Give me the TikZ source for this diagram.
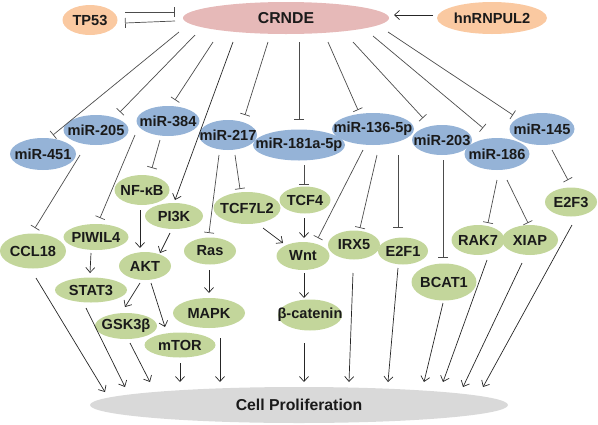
\documentclass[tikz,border=0pt]{standalone}
\usepackage{fontspec}
\setmainfont{Liberation Sans}
\usetikzlibrary{shapes.geometric,arrows.meta,calc}
\definecolor{peach}{HTML}{FAC9A1}
\definecolor{pinkc}{HTML}{E6B9B8}
\definecolor{bluec}{HTML}{95B3D7}
\definecolor{greenc}{HTML}{C3D69B}
\definecolor{grayc}{HTML}{D9D9D9}
\definecolor{txt}{HTML}{1A1A1A}
\begin{document}
\begin{tikzpicture}[x=1pt,y=-1pt,
  el/.style={ellipse, draw=none, inner sep=0pt, text=txt,
    font=\bfseries\fontsize{14.6}{16}\selectfont},
  pe/.style={el, fill=peach},
  pk/.style={el, fill=pinkc},
  bl/.style={el, fill=bluec},
  gr/.style={el, fill=greenc},
  gy/.style={el, fill=grayc},
  inh/.style={draw=black!70, line width=0.7pt, -{Bar[width=10pt,line width=0.7pt]}},
  act/.style={draw=black!85, line width=0.7pt, -{Straight Barb[length=5pt,width=9pt,line width=0.7pt]}},
  dim/.style 2 args={minimum width=#1pt, minimum height=#2pt}
]
\useasboundingbox (0,0) rectangle (598,424);

% top row
\node[pe, dim={55}{30}] (tp53) at (90,20) {\makebox[0pt]{TP53}};
\node[pk, dim={206}{32}, font=\bfseries\fontsize{15.8}{17}\selectfont] (crnde) at (286,18) {\makebox[0pt]{CRNDE}};
\node[pe, dim={110}{32}] (hn) at (492,18) {\makebox[0pt]{hnRNPUL2}};

% miRNAs
\node[bl, dim={66}{32}] (m451) at (43,154) {\makebox[0pt]{miR-451}};
\node[bl, dim={65}{30}] (m205) at (96,130) {\makebox[0pt]{miR-205}};
\node[bl, dim={63}{30}] (m384) at (168,121) {\makebox[0pt]{miR-384}};
\node[bl, dim={58}{30}] (m217) at (228,135) {\makebox[0pt]{miR-217}};
\node[bl, dim={92}{31}] (m181) at (299,145) {\makebox[0pt]{miR-181a-5p}};
\node[bl, dim={82}{32}] (m136) at (373,129) {\makebox[0pt]{miR-136-5p}};
\node[bl, dim={60}{30}] (m203) at (442,140) {\makebox[0pt]{miR-203}};
\node[bl, dim={65}{32}] (m186) at (497,154) {\makebox[0pt]{miR-186}};
\node[bl, dim={65}{32}] (m145) at (542,129) {\makebox[0pt]{miR-145}};

% targets
\node[gr, dim={55}{30}] (nfkb) at (142,190) {\makebox[0pt]{NF-κB}};
\node[gr, dim={58}{26}] (pi3k) at (174,216) {\makebox[0pt]{PI3K}};
\node[gr, dim={67}{32}] (tcf7l2) at (247,208) {\makebox[0pt]{TCF7L2}};
\node[gr, dim={51}{27}] (tcf4) at (305,200) {\makebox[0pt]{TCF4}};
\node[gr, dim={66}{35}] (ccl18) at (33,251) {\makebox[0pt]{CCL18}};
\node[gr, dim={65}{26}] (piwil4) at (96,237) {\makebox[0pt]{PIWIL4}};
\node[gr, dim={52}{28}] (akt) at (145,266) {\makebox[0pt]{AKT}};
\node[gr, dim={52}{27}] (ras) at (210,251) {\makebox[0pt]{Ras}};
\node[gr, dim={53}{28}] (wnt) at (303,256) {\makebox[0pt]{Wnt}};
\node[gr, dim={52}{29}] (irx5) at (354,245) {\makebox[0pt]{IRX5}};
\node[gr, dim={50}{27}] (e2f1) at (403,251) {\makebox[0pt]{E2F1}};
\node[gr, dim={53}{30}] (rak7) at (478,240) {\makebox[0pt]{RAK7}};
\node[gr, dim={56}{30}] (xiap) at (530,240) {\makebox[0pt]{XIAP}};
\node[gr, dim={52}{29}] (e2f3) at (571,202) {\makebox[0pt]{E2F3}};
\node[gr, dim={65}{37}] (bcat1) at (444,282) {\makebox[0pt]{BCAT1}};
\node[gr, dim={72}{25}] (stat3) at (91,290) {\makebox[0pt]{STAT3}};
\node[gr, dim={62}{26}] (gsk) at (126,326) {\makebox[0pt]{GSK3β}};
\node[gr, dim={71}{25}] (mtor) at (180,345) {\makebox[0pt]{mTOR}};
\node[gr, dim={72}{30}] (mapk) at (209,313) {\makebox[0pt]{MAPK}};
\node[gr, dim={64}{31}] (bcat) at (310,315) {\makebox[0pt]{β-catenin}};

\node[gy, dim={418}{36}, font=\bfseries\fontsize{15.8}{17}\selectfont] (cp) at (299,405) {\makebox[0pt]{Cell Proliferation}};

% TP53 / CRNDE / hnRNPUL2
\draw[inh] ($(tp53)+(35,-8)$) -- ($(crnde)+(-111,-6)$);
\draw[inh] ($(crnde)+(-111,3)$) -- ($(tp53)+(35,3)$);
\draw[act] ($(hn)+(-59,-3)$) -- ($(crnde)+(108,-3)$);

% CRNDE to miRNAs
\draw[inh] ($(crnde)+(-107,14)$) -- ($(m451)+(10,-19)$);
\draw[inh] ($(crnde)+(-91,17)$) -- ($(m205)+(24,-18)$);
\draw[inh] ($(crnde)+(-73,24)$) -- ($(m384)+(7,-21)$);
\draw[act] ($(crnde)+(-53,24)$) -- ($(pi3k)+(1,-16)$);
\draw[inh] ($(crnde)+(-18,24)$) -- ($(m217)+(17,-20)$);
\draw[inh] ($(crnde)+(13,24)$) -- ($(m181)+(0,-25)$);
\draw[inh] ($(crnde)+(42,24)$) -- ($(m136)+(-15,-19)$);
\draw[inh] ($(crnde)+(67,24)$) -- ($(m203)+(-19,-22)$);
\draw[inh] ($(crnde)+(87,18)$) -- ($(m186)+(-14,-26)$);
\draw[inh] ($(crnde)+(102,14)$) -- ($(m145)+(-29,-14)$);

% miRNAs to targets
\draw[inh] ($(m451)+(37,1)$) -- ($(ccl18)+(2,-23)$);
\draw[inh] ($(m205)+(39,5)$) -- ($(piwil4)+(4,-19)$);
\draw[inh] ($(m384)+(-8,19)$) -- ($(nfkb)+(10,-22)$);
\draw[inh] ($(m217)+(-9,20)$) -- ($(ras)+(-1,-18)$);
\draw[inh] ($(m217)+(7,20)$) -- ($(tcf7l2)+(-7,-19)$);
\draw[inh] ($(m181)+(5,20)$) -- ($(tcf4)+(-1,-15)$);
\draw[inh] ($(m136)+(-10,21)$) -- ($(wnt)+(15,-18)$);
\draw[inh] ($(m136)+(4,26)$) -- ($(irx5)+(6,-17)$);
\draw[inh] ($(m136)+(25,26)$) -- ($(e2f1)+(-5,-23)$);
\draw[inh] ($(m203)+(1,20)$) -- ($(bcat1)+(-1,-24)$);
\draw[inh] ($(m186)+(0,26)$) -- ($(rak7)+(10,-17)$);
\draw[inh] ($(m186)+(10,26)$) -- ($(xiap)+(-2,-17)$);
\draw[inh] ($(m145)+(10,21)$) -- ($(e2f3)+(-3,-22)$);

% signalling arrows
\draw[act] ($(tcf7l2)+(16,20)$) -- ($(wnt)+(-20,-13)$);
\draw[act] ($(tcf4)+(-1,18)$) -- ($(wnt)+(1,-18)$);
\draw[act] ($(wnt)+(1,17)$) -- ($(bcat)+(-6,-17)$);
\draw[act] ($(nfkb)+(-2,20)$) -- ($(akt)+(-5,-18)$);
\draw[act] ($(pi3k)+(-4,17)$) -- ($(akt)+(15,-13)$);
\draw[act] ($(piwil4)+(-5,16)$) -- ($(stat3)+(-1,-17)$);
\draw[act] ($(akt)+(-5,17)$) -- ($(gsk)+(-1,-19)$);
\draw[act] ($(akt)+(6,17)$) -- ($(mtor)+(-15,-18)$);
\draw[act] ($(ras)+(-1,19)$) -- ($(mapk)+(0,-20)$);

% to Cell Proliferation
\draw[act] ($(ccl18)+(3,27)$) -- ($(cp)+(-194,-13)$);
\draw[act] ($(stat3)+(-5,18)$) -- ($(cp)+(-174,-18)$);
\draw[act] ($(gsk)+(4,17)$) -- ($(cp)+(-149,-23)$);
\draw[act] ($(mtor)+(0,18)$) -- ($(cp)+(-119,-23)$);
\draw[act] ($(mapk)+(11,25)$) -- ($(cp)+(-79,-23)$);
\draw[act] ($(bcat)+(-6,28)$) -- ($(cp)+(5,-23)$);
\draw[act] ($(irx5)+(-1,28)$) -- ($(cp)+(50,-23)$);
\draw[act] ($(e2f1)+(-5,17)$) -- ($(cp)+(89,-23)$);
\draw[act] ($(bcat1)+(-1,21)$) -- ($(cp)+(125,-23)$);
\draw[act] ($(rak7)+(9,20)$) -- ($(cp)+(144,-23)$);
\draw[act] ($(xiap)+(-8,23)$) -- ($(cp)+(164,-18)$);
\draw[act] ($(e2f3)+(1,23)$) -- ($(cp)+(184,-18)$);
\end{tikzpicture}
\end{document}
